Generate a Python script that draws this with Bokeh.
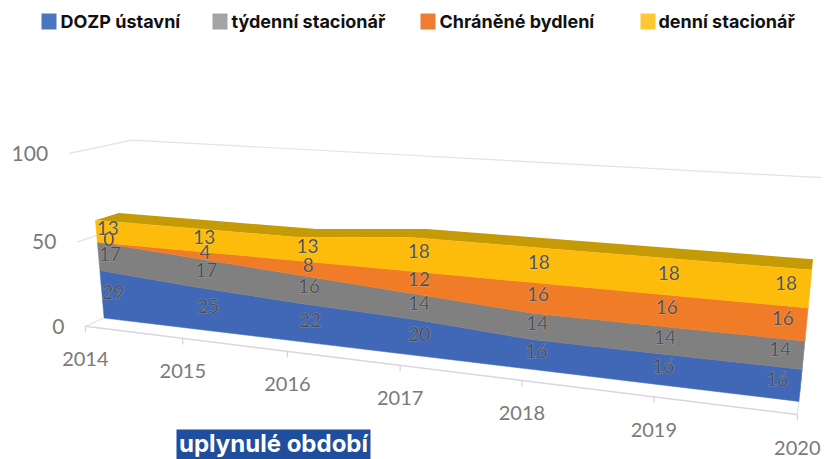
import numpy as np
from bokeh.plotting import figure
from bokeh.core.properties import value
from bokeh.embed import file_html
from bokeh.resources import INLINE

years = ["2014", "2015", "2016", "2017", "2018", "2019", "2020"]
dozp = [29, 25, 22, 20, 16, 16, 16]
tydenni = [17, 17, 16, 14, 14, 14, 14]
chranene = [0, 4, 8, 12, 16, 16, 16]
denni = [13, 13, 13, 18, 18, 18, 18]
series_names = ["DOZP ústavní", "týdenní stacionář", "Chráněné bydlení", "denní stacionář"]
y_ticks = [0, 50, 100]
AREA_COLORS = ["#4068b6", "#808080", "#f07c28", "#fdbb0b"]
SIDE_COLORS = ["#3a5ea6", "#757575", "#e0701f", "#f0b000"]
LEGEND_COLORS = ["#4a76bf", "#a5a5a5", "#ef7d31", "#ffc733"]
TOP_COLOR = "#c49a05"
GRID = "#e3e3e3"
TXT = "#7a7a7a"

# camera calibration of the oblique 3D view: (category, value, depth) -> page pixel
calib = [
    (0, 0, 0, 85, 326), (1, 0, 0, 182, 338), (2, 0, 0, 287, 352), (3, 0, 0, 399, 365),
    (4, 0, 0, 521, 380), (5, 0, 0, 653, 397), (6, 0, 0, 797, 413),
    (0, 100, 1, 130, 140), (6, 100, 1, 821, 178), (0, 100, 0, 68, 153), (0, 50, 0, 77, 241),
    (0, 0, .3, 103, 317), (6, 0, .3, 799, 401), (0, 59, .3, 96, 219), (6, 64, .3, 811, 270),
    (0, 59, .65, 118, 213), (6, 64, .65, 812, 258), (3, 64, .3, 412, 237), (3, 64, .65, 425, 229),
]
A = []
for X, Y, Z, u, v in calib:
    A.append([X, Y, Z, 1, 0, 0, 0, 0, -u * X, -u * Y, -u * Z, -u])
    A.append([0, 0, 0, 0, X, Y, Z, 1, -v * X, -v * Y, -v * Z, -v])
A = np.array(A, float)
scale = np.array([6, 100, 1, 1, 6, 100, 1, 1, 6 * 500, 100 * 500, 500, 500], float)
P = (np.linalg.svd(A / scale)[2][-1] / scale).reshape(3, 4)


def proj(i, v, d):
    h = P @ np.array([i, v, d, 1.0])
    return h[0] / h[2], h[1] / h[2]


def poly(points):
    xy = [proj(*q) for q in points]
    return [a for a, _ in xy], [b for _, b in xy]


F, B = 0.3, 0.68
n = len(years)
idx = list(range(n))
layers = [dozp, tydenni, chranene, denni]
stack = np.cumsum(np.array([[0] * n] + layers, float), axis=0)

p = figure(width=824, height=459, x_range=(0, 824), y_range=(459, 0), output_backend="svg",
           toolbar_location=None, min_border=0, outline_line_color=None,
           background_fill_color="white", border_fill_color="white")
p.xaxis.visible = False
p.yaxis.visible = False
p.xgrid.visible = False
p.ygrid.visible = False

# walls and floor
for t in y_ticks[1:]:
    xs, ys = poly([(0, t, 0), (0, t, 1), (6, t, 1)])
    p.line(xs, ys, line_color=GRID, line_width=1.2)
xs, ys = poly([(0, 0, 0), (6, 0, 0)])
p.line(xs, ys, line_color="#d9d6de", line_width=1.5)
xs, ys = poly([(0, 0, 0), (0, 0, F)])
p.line(xs, ys, line_color=GRID, line_width=1.2)
xs, ys = poly([(6, 0, 0), (6, 0, F)])
p.line(xs, ys, line_color=GRID, line_width=1.2)
for i in idx:
    x0, y0 = proj(i, 0, 0)
    p.line([x0, x0], [y0, y0 + 6], line_color="#d4d4d4", line_width=1.2)

# right side faces, top face, front faces
for k in range(4):
    xs, ys = poly([(6, stack[k][6], F), (6, stack[k + 1][6], F), (6, stack[k + 1][6], B), (6, stack[k][6], B)])
    p.patch(xs, ys, fill_color=SIDE_COLORS[k], line_color=None)
xs, ys = poly([(i, stack[4][i], F) for i in idx] + [(i, stack[4][i], B) for i in idx[::-1]])
p.patch(xs, ys, fill_color=TOP_COLOR, line_color=None)
for k in range(4):
    xs, ys = poly([(i, stack[k + 1][i], F) for i in idx] + [(i, stack[k][i], F) for i in idx[::-1]])
    p.patch(xs, ys, fill_color=AREA_COLORS[k], line_color=AREA_COLORS[k], line_width=0.5)

# axis labels
for i in idx:
    x0, y0 = proj(i, 0, 0)
    p.text([x0], [y0 + 33], text=[years[i]], text_font=value("Lato"), text_font_size="20px",
           text_color=TXT, text_align="center", text_baseline="middle")
for t in y_ticks:
    x0, y0 = proj(0, t, 0)
    p.text([x0 - 21], [y0], text=[str(t)], text_font=value("Lato"), text_font_size="21px",
           text_color=TXT, text_align="right", text_baseline="middle")

# data labels
for k in range(4):
    for i in idx:
        mid = (stack[k][i] + stack[k + 1][i]) / 2
        pos = 0.98 * i + 0.12 if i < n - 1 else i - 0.16
        x0, y0 = proj(pos, mid, F)
        p.text([x0], [y0 - 4], text=[str(layers[k][i])], text_font=value("Lato"),
               text_font_size="19px", text_color="#333333", text_outline_color="#ffffff40",
               text_align="center", text_baseline="middle")

# legend
leg_sq = [41, 212, 420, 640]
leg_tx = [60, 231, 439, 658]
for name, c, a, b in zip(series_names, LEGEND_COLORS, leg_sq, leg_tx):
    p.quad(left=[a], right=[a + 15], top=[13], bottom=[29], fill_color=c, line_color=None)
    p.text([b], [21], text=[name], text_font=value("Inter"), text_font_style="bold",
           text_font_size="18px", text_color="#111111", text_align="left", text_baseline="middle")

# caption
p.quad(left=[176], right=[370], top=[429], bottom=[459], fill_color="#1f4e9f", line_color=None)
p.text([273], [443], text=["uplynulé období"], text_font=value("Inter"), text_font_style="bold",
       text_font_size="24px", text_color="white", text_align="center", text_baseline="middle")

open("out.html", "w").write(file_html(p, INLINE))
